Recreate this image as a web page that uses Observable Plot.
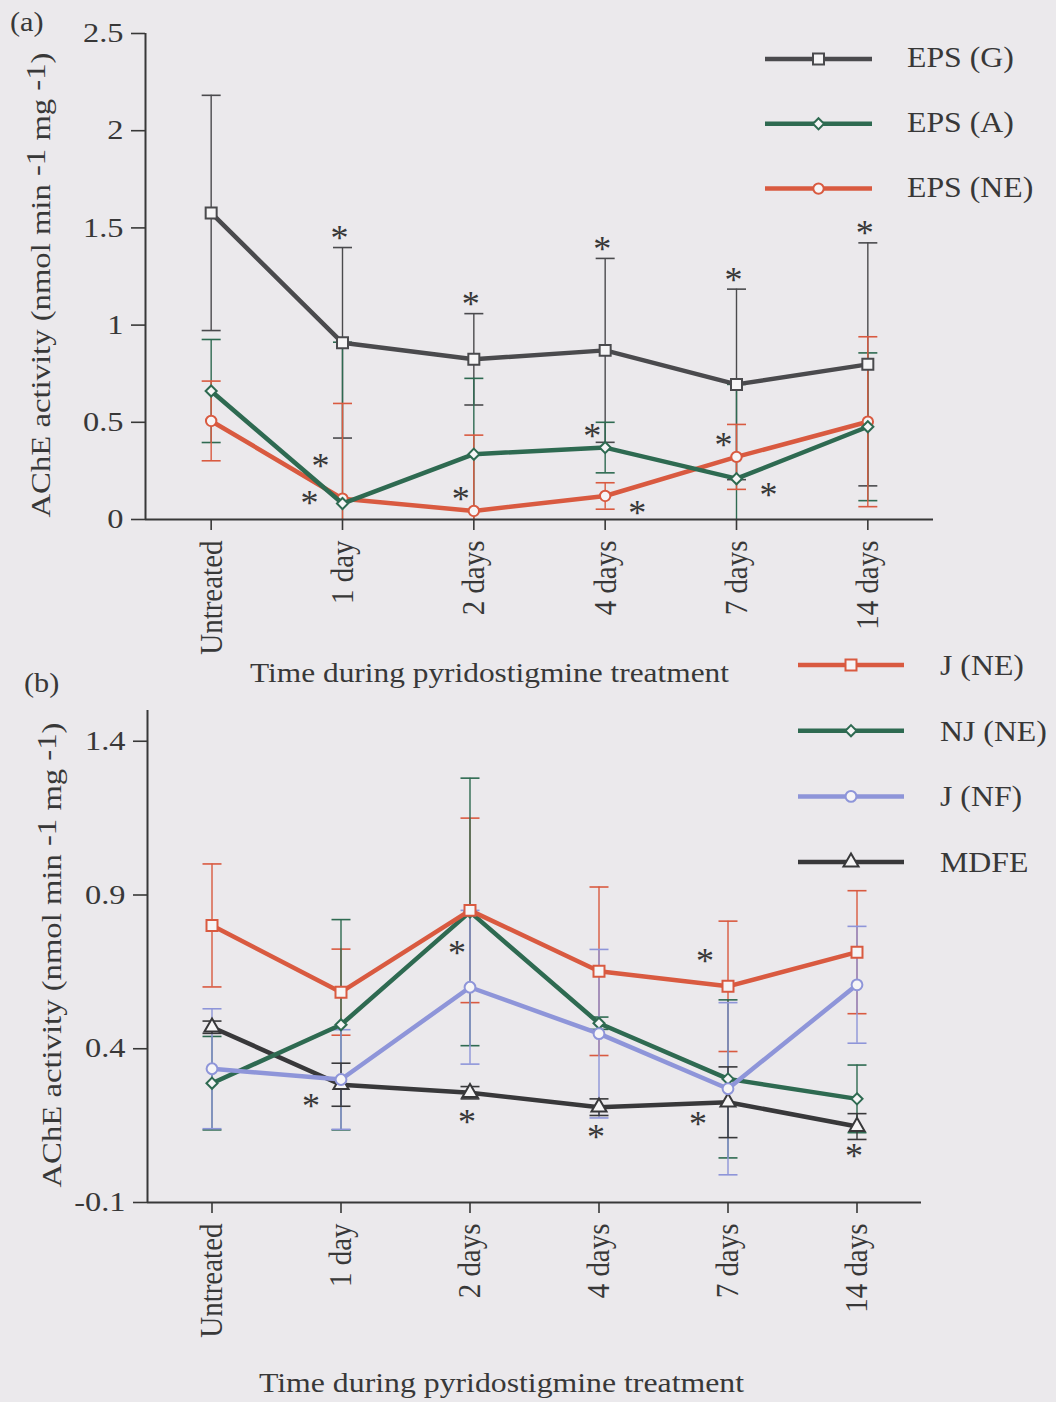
<!DOCTYPE html>
<html>
<head>
<meta charset="utf-8">
<title>AChE activity during pyridostigmine treatment</title>
<script src="https://cdn.jsdelivr.net/npm/d3@7"></script>
<script src="https://cdn.jsdelivr.net/npm/@observablehq/plot@0.6"></script>
<style>
  html, body { margin: 0; padding: 0; background: #ebe9ec; }
  #page { position: relative; width: 1056px; height: 1402px; overflow: hidden; background: #ebe9ec; }
  #page > svg { position: absolute; left: 0; overflow: visible; }
</style>
</head>
<body>
<div id="page"></div>
<script>
// ---- categories and tick values ----
const days = ["Untreated", "1 day", "2 days", "4 days", "7 days", "14 days"];
const yTicksA = [0, 0.5, 1, 1.5, 2, 2.5];
const yTicksB = [-0.1, 0.4, 0.9, 1.4];

// ---- panel (a): mean AChE activity and error (± bar half-length) ----
const epsGMean  = [1.577, 0.909, 0.824, 0.870, 0.695, 0.798];
const epsGErr   = [0.605, 0.490, 0.235, 0.473, 0.490, 0.625];
const epsAMean  = [0.661, 0.082, 0.336, 0.370, 0.210, 0.477];
const epsAErr   = [0.265, 0.830, 0.390, 0.130, 0.485, 0.380];
const epsNEMean = [0.507, 0.107, 0.044, 0.121, 0.322, 0.503];
const epsNEErr  = [0.205, 0.490, 0.390, 0.068, 0.167, 0.437];

// ---- panel (b) ----
const jNEMean  = [0.801, 0.584, 0.850, 0.652, 0.603, 0.714];
const jNEErr   = [0.200, 0.140, 0.300, 0.274, 0.212, 0.200];
const njNEMean = [0.288, 0.478, 0.845, 0.483, 0.302, 0.237];
const njNEErr  = [0.152, 0.342, 0.435, 0.020, 0.257, 0.110];
const jNFMean  = [0.335, 0.300, 0.600, 0.449, 0.270, 0.608];
const jNFErr   = [0.195, 0.162, 0.250, 0.274, 0.280, 0.190];
const mdfeMean = [0.470, 0.283, 0.257, 0.210, 0.226, 0.147];
const mdfeErr  = [0.020, 0.070, 0.020, 0.027, 0.115, 0.042];

// ---- significance asterisks: [series, day index, placement] ----
const sigA = [
  ["EPS (G)", 1, "above"], ["EPS (G)", 2, "above"], ["EPS (G)", 3, "above"],
  ["EPS (G)", 4, "above"], ["EPS (G)", 5, "above"],
  ["EPS (A)", 1, "farUpLeft"], ["EPS (NE)", 1, "left"], ["EPS (NE)", 2, "upLeft"],
  ["EPS (A)", 3, "upLeft"], ["EPS (NE)", 3, "downRight"],
  ["EPS (NE)", 4, "upLeft"], ["EPS (A)", 4, "downRight"]
];
const sigB = [
  ["MDFE", 1, "downLeft"], ["NJ (NE)", 2, "belowLeft"], ["MDFE", 2, "below"],
  ["MDFE", 3, "below"], ["J (NE)", 4, "upLeftMid"], ["MDFE", 4, "downLeft"],
  ["MDFE", 5, "below"]
];

// ---- styling ----
const SERIF = "'Liberation Serif', 'Times New Roman', serif";
const INK = "#383838";
const MARKER_FILL = "#f6f5f6";

const seriesA = [
  {key: "EPS (G)",  mean: epsGMean,  err: epsGErr,  color: "#4a4a4d", symbol: "square",   r: 6.2},
  {key: "EPS (A)",  mean: epsAMean,  err: epsAErr,  color: "#2e6a51", symbol: "diamond2", r: 5},
  {key: "EPS (NE)", mean: epsNEMean, err: epsNEErr, color: "#d95a40", symbol: "circle",   r: 5.2}
];
const seriesB = [
  {key: "J (NE)",  mean: jNEMean,  err: jNEErr,  color: "#d95a40", symbol: "square",   r: 6.2},
  {key: "NJ (NE)", mean: njNEMean, err: njNEErr, color: "#2e6a51", symbol: "diamond2", r: 5},
  {key: "J (NF)",  mean: jNFMean,  err: jNFErr,  color: "#8e95d9", symbol: "circle",   r: 5.4},
  {key: "MDFE",    mean: mdfeMean, err: mdfeErr, color: "#38383a", symbol: "triangle", r: 5.6}
];

// where an asterisk sits relative to its series point (or the top of its error bar)
const sigPlacement = {
  above:     {from: "hi", dx: -3,  dy: -17},
  farUpLeft: {from: "v",  dx: -22, dy: -45},
  upLeftMid: {from: "v",  dx: -23, dy: -33},
  upLeft:    {from: "v",  dx: -13, dy: -19},
  left:      {from: "v",  dx: -33, dy: -3},
  downRight: {from: "v",  dx: 32,  dy: 9},
  downLeft:  {from: "v",  dx: -30, dy: 14},
  belowLeft: {from: "v",  dx: -13, dy: 34},
  below:     {from: "v",  dx: -3,  dy: 22}
};
const STAR_SIZE = 36;
// the asterisk glyph sits high in the em box; this recentres it on its anchor
const STAR_SHIFT = 8;

// horizontal error-bar cap drawn as a dot symbol
const capSymbol = {
  draw(ctx, size) {
    const r = Math.sqrt(size / Math.PI);
    ctx.moveTo(-r, 0);
    ctx.lineTo(r, 0);
  }
};

const page = document.getElementById("page");

function rowsOf(s) {
  return s.mean.map((v, i) => ({key: s.key, i, v, lo: v - s.err[i], hi: v + s.err[i]}));
}

function drawPanel({series, drawOrder, sig, yDomain, yTicks, top, height,
                    marginTop, marginBottom, marginLeft, marginRight}) {
  const [y0, y1] = yDomain;
  const marks = [];

  // error bars first, so lines and markers sit on top
  for (const s of series) {
    const rows = rowsOf(s);
    marks.push(Plot.ruleX(rows, {
      x: "i", y1: d => Math.max(d.lo, y0), y2: d => Math.min(d.hi, y1),
      stroke: s.color, strokeWidth: 1.4
    }));
    const caps = rows.flatMap(d => [{i: d.i, y: d.lo}, {i: d.i, y: d.hi}])
      .filter(d => d.y >= y0 && d.y <= y1);
    marks.push(Plot.dot(caps, {
      x: "i", y: "y", symbol: capSymbol, r: 9.5,
      stroke: s.color, strokeWidth: 1.6, fill: "none"
    }));
  }

  // axis lines
  marks.push(Plot.ruleX([-0.5], {stroke: INK, strokeWidth: 2}));
  marks.push(Plot.ruleY([y0], {stroke: INK, strokeWidth: 2}));

  // series lines and open markers
  for (const key of drawOrder) {
    const s = series.find(d => d.key === key);
    const rows = rowsOf(s);
    marks.push(Plot.line(rows, {
      x: "i", y: "v", stroke: s.color, strokeWidth: 4.5, strokeLinejoin: "miter"
    }));
    marks.push(Plot.dot(rows, {
      x: "i", y: "v", symbol: s.symbol, r: s.r,
      stroke: s.color, strokeWidth: 2, fill: MARKER_FILL
    }));
  }

  // significance asterisks, grouped by placement
  const byPlacement = d3.group(sig, d => d[2]);
  for (const [name, items] of byPlacement) {
    const p = sigPlacement[name];
    const rows = items.map(([key, i]) => {
      const r = rowsOf(series.find(s => s.key === key))[i];
      return {i, y: r[p.from]};
    });
    marks.push(Plot.text(rows, {
      x: "i", y: "y", text: () => "*", dx: p.dx, dy: p.dy + STAR_SHIFT,
      fontSize: STAR_SIZE, fontFamily: SERIF, fill: INK
    }));
  }

  // axes
  marks.push(Plot.axisY({
    ticks: yTicks, tickFormat: d => String(d), tickSize: 14, tickPadding: 8,
    fontSize: 27, fontFamily: SERIF, strokeWidth: 1.6, label: null
  }));
  marks.push(Plot.axisX({
    ticks: d3.range(days.length), tickFormat: i => days[i], tickRotate: -90,
    tickSize: 11, tickPadding: 10, fontSize: 29, fontFamily: SERIF,
    strokeWidth: 1.6, label: null
  }));

  const chart = Plot.plot({
    width: 1056, height, marginTop, marginBottom, marginLeft, marginRight,
    x: {domain: [-0.5, days.length - 0.5], axis: null},
    y: {domain: yDomain, axis: null},
    style: {background: "transparent", color: INK, fontFamily: SERIF, overflow: "visible"},
    marks
  });
  chart.style.top = top + "px";
  page.appendChild(chart);

  // widen the horizontal tick labels and thicken the rotated ones
  d3.select(chart).selectAll('g[aria-label="y-axis tick label"] text').each(function () {
    const w = this.getComputedTextLength();
    this.setAttribute("textLength", (w * 1.2).toFixed(1));
    this.setAttribute("lengthAdjust", "spacingAndGlyphs");
  });
  d3.select(chart).selectAll('g[aria-label="x-axis tick label"] text').each(function () {
    const t = this.getAttribute("transform") || "";
    this.setAttribute("transform", t + " scale(1,1.12)");
  });
  return chart;
}

drawPanel({
  series: seriesA, drawOrder: ["EPS (NE)", "EPS (A)", "EPS (G)"], sig: sigA,
  yDomain: [0, 2.5], yTicks: yTicksA,
  top: 0, height: 680, marginTop: 33, marginBottom: 161, marginLeft: 145, marginRight: 123
});
drawPanel({
  series: seriesB, drawOrder: ["MDFE", "NJ (NE)", "J (NF)", "J (NE)"], sig: sigB,
  yDomain: [-0.1, 1.5], yTicks: yTicksB,
  top: 680, height: 720, marginTop: 30, marginBottom: 198, marginLeft: 147, marginRight: 135
});

// ---- titles, panel letters and legends ----
const over = d3.select(page).append("svg")
  .attr("width", 1056).attr("height", 1402)
  .style("top", "0px")
  .attr("font-family", SERIF).attr("fill", INK);

function fitWidth(sel, width) {
  sel.attr("textLength", width).attr("lengthAdjust", "spacingAndGlyphs");
}
function stretch(sel, k) {
  sel.each(function () {
    const w = this.getComputedTextLength();
    this.setAttribute("textLength", (w * k).toFixed(1));
    this.setAttribute("lengthAdjust", "spacingAndGlyphs");
  });
}

// panel letters
stretch(over.append("text").attr("x", 10).attr("y", 31).attr("font-size", 27).text("(a)"), 1.12);
stretch(over.append("text").attr("x", 24).attr("y", 692).attr("font-size", 27).text("(b)"), 1.12);

// y-axis titles
function yTitle(x, y) {
  const t = over.append("text")
    .attr("transform", `translate(${x},${y}) rotate(-90) scale(1,1.05)`)
    .attr("text-anchor", "middle").attr("font-size", 27);
  t.append("tspan").text("AChE activity (nmol min ");
  t.append("tspan").attr("dy", -5).text("-1");
  t.append("tspan").attr("dy", 5).text(" mg ");
  t.append("tspan").attr("dy", -5).text("-1");
  t.append("tspan").attr("dy", 5).text(")");
  fitWidth(t, 465);
}
yTitle(50, 285);
yTitle(61, 955);

// x-axis titles
fitWidth(over.append("text").attr("x", 250).attr("y", 682).attr("font-size", 27)
  .text("Time during pyridostigmine treatment"), 479);
fitWidth(over.append("text").attr("x", 259).attr("y", 1392).attr("font-size", 27)
  .text("Time during pyridostigmine treatment"), 485);

// legends
const symbolTypes = {
  square: d3.symbolSquare, diamond2: d3.symbolDiamond2,
  circle: d3.symbolCircle, triangle: d3.symbolTriangle
};
function legend(series, {x1, x2, xText, y, step, baseline}) {
  series.forEach((s, k) => {
    const yy = y + k * step;
    const xm = (x1 + x2) / 2;
    over.append("line").attr("x1", x1).attr("x2", x2).attr("y1", yy).attr("y2", yy)
      .attr("stroke", s.color).attr("stroke-width", 4.5);
    over.append("path")
      .attr("d", d3.symbol(symbolTypes[s.symbol], s.r * s.r * Math.PI)())
      .attr("transform", `translate(${xm},${yy})`)
      .attr("fill", MARKER_FILL).attr("stroke", s.color).attr("stroke-width", 2);
    stretch(over.append("text").attr("x", xText).attr("y", yy + baseline)
      .attr("font-size", 30).text(s.key), 1.06);
  });
}
legend(seriesA, {x1: 765, x2: 872, xText: 907, y: 59, step: 64.8, baseline: 8});
legend(seriesB, {x1: 798, x2: 904, xText: 940, y: 665, step: 65.7, baseline: 10});
</script>
</body>
</html>
